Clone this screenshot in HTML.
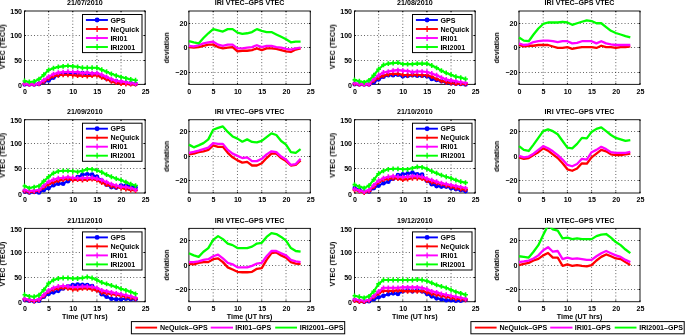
<!DOCTYPE html>
<html><head><meta charset="utf-8"><style>
html,body{margin:0;padding:0;background:#fff;width:685px;height:335px;overflow:hidden}
svg{display:block}
text{font-family:"Liberation Sans",sans-serif;font-weight:bold;font-size:7.1px;fill:#000;filter:url(#tb)}
</style></head><body>
<svg width="685" height="335" viewBox="0 0 685 335">
<defs><filter id="tb" x="-20%" y="-30%" width="140%" height="160%"><feGaussianBlur stdDeviation="0.28"/></filter></defs>
<rect width="685" height="335" fill="#fff"/>
<path d="M48.64 11V84.4 M72.78 11V84.4 M96.92 11V84.4 M121.06 11V84.4 M24.5 60.5H145.2 M24.5 35.5H145.2" stroke="#000" stroke-width="0.9" stroke-dasharray="0.9 2.3" fill="none" opacity="0.75"/>
<rect x="24.5" y="11" width="120.7" height="73.4" fill="none" stroke="#1a1a1a" stroke-width="1.0"/>
<path d="M24.5 84.4v-1.3M24.5 11v1.3M48.64 84.4v-1.3M48.64 11v1.3M72.78 84.4v-1.3M72.78 11v1.3M96.92 84.4v-1.3M96.92 11v1.3M121.06 84.4v-1.3M121.06 11v1.3M145.2 84.4v-1.3M145.2 11v1.3M24.5 84.4h1.3M145.2 84.4h-1.3M24.5 60.5h1.3M145.2 60.5h-1.3M24.5 35.5h1.3M145.2 35.5h-1.3M24.5 11h1.3M145.2 11h-1.3" stroke="#000" stroke-width="1" fill="none"/>
<clipPath id="c0"><rect x="22.5" y="10.4" width="124.7" height="76.4"/></clipPath>
<g clip-path="url(#c0)">
<polyline points="24.5,84.4 29.33,84.4 34.16,84.4 38.98,83.91 43.81,81.95 48.64,80.49 53.47,77.55 58.3,75.1 63.12,73.63 67.95,73.15 72.78,73.15 77.61,73.15 82.44,73.15 87.26,73.63 92.09,74.12 96.92,74.12 101.75,76.08 106.58,78.53 111.4,80.49 116.23,81.46 121.06,82.44 125.89,82.93 130.72,83.42 135.54,83.91" stroke="#0000ff" stroke-width="2.1" fill="none" stroke-linejoin="round"/>
<circle cx="24.5" cy="84.4" r="2.35" fill="#0000ff"/>
<circle cx="29.33" cy="84.4" r="2.35" fill="#0000ff"/>
<circle cx="34.16" cy="84.4" r="2.35" fill="#0000ff"/>
<circle cx="38.98" cy="83.91" r="2.35" fill="#0000ff"/>
<circle cx="43.81" cy="81.95" r="2.35" fill="#0000ff"/>
<circle cx="48.64" cy="80.49" r="2.35" fill="#0000ff"/>
<circle cx="53.47" cy="77.55" r="2.35" fill="#0000ff"/>
<circle cx="58.3" cy="75.1" r="2.35" fill="#0000ff"/>
<circle cx="63.12" cy="73.63" r="2.35" fill="#0000ff"/>
<circle cx="67.95" cy="73.15" r="2.35" fill="#0000ff"/>
<circle cx="72.78" cy="73.15" r="2.35" fill="#0000ff"/>
<circle cx="77.61" cy="73.15" r="2.35" fill="#0000ff"/>
<circle cx="82.44" cy="73.15" r="2.35" fill="#0000ff"/>
<circle cx="87.26" cy="73.63" r="2.35" fill="#0000ff"/>
<circle cx="92.09" cy="74.12" r="2.35" fill="#0000ff"/>
<circle cx="96.92" cy="74.12" r="2.35" fill="#0000ff"/>
<circle cx="101.75" cy="76.08" r="2.35" fill="#0000ff"/>
<circle cx="106.58" cy="78.53" r="2.35" fill="#0000ff"/>
<circle cx="111.4" cy="80.49" r="2.35" fill="#0000ff"/>
<circle cx="116.23" cy="81.46" r="2.35" fill="#0000ff"/>
<circle cx="121.06" cy="82.44" r="2.35" fill="#0000ff"/>
<circle cx="125.89" cy="82.93" r="2.35" fill="#0000ff"/>
<circle cx="130.72" cy="83.42" r="2.35" fill="#0000ff"/>
<circle cx="135.54" cy="83.91" r="2.35" fill="#0000ff"/>
<polyline points="24.5,83.91 29.33,84.4 34.16,84.4 38.98,83.91 43.81,81.46 48.64,78.38 53.47,76.18 58.3,75.25 63.12,74.81 67.95,74.81 72.78,75.25 77.61,75.64 82.44,75.64 87.26,76.18 92.09,75.64 96.92,75.25 101.75,77.45 106.58,79.16 111.4,81.37 116.23,82.69 121.06,83.62 125.89,84.01 130.72,84.4 135.54,84.4" stroke="#ff0000" stroke-width="2.1" fill="none" stroke-linejoin="round"/>
<path d="M22.1 83.91h4.8M24.5 81.51v4.8M26.93 84.4h4.8M29.33 82v4.8M31.76 84.4h4.8M34.16 82v4.8M36.58 83.91h4.8M38.98 81.51v4.8M41.41 81.46h4.8M43.81 79.06v4.8M46.24 78.38h4.8M48.64 75.98v4.8M51.07 76.18h4.8M53.47 73.78v4.8M55.9 75.25h4.8M58.3 72.85v4.8M60.72 74.81h4.8M63.12 72.41v4.8M65.55 74.81h4.8M67.95 72.41v4.8M70.38 75.25h4.8M72.78 72.85v4.8M75.21 75.64h4.8M77.61 73.24v4.8M80.04 75.64h4.8M82.44 73.24v4.8M84.86 76.18h4.8M87.26 73.78v4.8M89.69 75.64h4.8M92.09 73.24v4.8M94.52 75.25h4.8M96.92 72.85v4.8M99.35 77.45h4.8M101.75 75.05v4.8M104.18 79.16h4.8M106.58 76.76v4.8M109 81.37h4.8M111.4 78.97v4.8M113.83 82.69h4.8M116.23 80.29v4.8M118.66 83.62h4.8M121.06 81.22v4.8M123.49 84.01h4.8M125.89 81.61v4.8M128.32 84.4h4.8M130.72 82v4.8M133.14 84.4h4.8M135.54 82v4.8" stroke="#ff0000" stroke-width="1.6" fill="none"/>
<polyline points="24.5,83.91 29.33,84.4 34.16,84.4 38.98,83.42 43.81,80.09 48.64,76.57 53.47,74.12 58.3,72.66 63.12,72.17 67.95,71.68 72.78,72.17 77.61,72.17 82.44,73.15 87.26,72.66 92.09,73.44 96.92,73.15 101.75,74.76 106.58,76.96 111.4,79.16 116.23,80.97 121.06,81.37 125.89,82.3 130.72,83.18 135.54,83.62" stroke="#ff00ff" stroke-width="2.1" fill="none" stroke-linejoin="round"/>
<path d="M22.1 83.91h4.8M24.5 81.51v4.8M26.93 84.4h4.8M29.33 82v4.8M31.76 84.4h4.8M34.16 82v4.8M36.58 83.42h4.8M38.98 81.02v4.8M41.41 80.09h4.8M43.81 77.69v4.8M46.24 76.57h4.8M48.64 74.17v4.8M51.07 74.12h4.8M53.47 71.72v4.8M55.9 72.66h4.8M58.3 70.26v4.8M60.72 72.17h4.8M63.12 69.77v4.8M65.55 71.68h4.8M67.95 69.28v4.8M70.38 72.17h4.8M72.78 69.77v4.8M75.21 72.17h4.8M77.61 69.77v4.8M80.04 73.15h4.8M82.44 70.75v4.8M84.86 72.66h4.8M87.26 70.26v4.8M89.69 73.44h4.8M92.09 71.04v4.8M94.52 73.15h4.8M96.92 70.75v4.8M99.35 74.76h4.8M101.75 72.36v4.8M104.18 76.96h4.8M106.58 74.56v4.8M109 79.16h4.8M111.4 76.76v4.8M113.83 80.97h4.8M116.23 78.57v4.8M118.66 81.37h4.8M121.06 78.97v4.8M123.49 82.3h4.8M125.89 79.9v4.8M128.32 83.18h4.8M130.72 80.78v4.8M133.14 83.62h4.8M135.54 81.22v4.8" stroke="#ff00ff" stroke-width="1.6" fill="none"/>
<polyline points="24.5,80.97 29.33,81.95 34.16,81.46 38.98,79.16 43.81,74.76 48.64,69.92 53.47,68.25 58.3,66.88 63.12,66.39 67.95,65.81 72.78,66.39 77.61,66.78 82.44,67.76 87.26,67.76 92.09,67.76 96.92,67.76 101.75,69.72 106.58,71.68 111.4,73.88 116.23,75.59 121.06,77.06 125.89,78.28 130.72,79.41 135.54,80.24" stroke="#00ff00" stroke-width="2.1" fill="none" stroke-linejoin="round"/>
<path d="M22.1 80.97h4.8M24.5 78.57v4.8M26.93 81.95h4.8M29.33 79.55v4.8M31.76 81.46h4.8M34.16 79.06v4.8M36.58 79.16h4.8M38.98 76.76v4.8M41.41 74.76h4.8M43.81 72.36v4.8M46.24 69.92h4.8M48.64 67.52v4.8M51.07 68.25h4.8M53.47 65.85v4.8M55.9 66.88h4.8M58.3 64.48v4.8M60.72 66.39h4.8M63.12 63.99v4.8M65.55 65.81h4.8M67.95 63.41v4.8M70.38 66.39h4.8M72.78 63.99v4.8M75.21 66.78h4.8M77.61 64.38v4.8M80.04 67.76h4.8M82.44 65.36v4.8M84.86 67.76h4.8M87.26 65.36v4.8M89.69 67.76h4.8M92.09 65.36v4.8M94.52 67.76h4.8M96.92 65.36v4.8M99.35 69.72h4.8M101.75 67.32v4.8M104.18 71.68h4.8M106.58 69.28v4.8M109 73.88h4.8M111.4 71.48v4.8M113.83 75.59h4.8M116.23 73.19v4.8M118.66 77.06h4.8M121.06 74.66v4.8M123.49 78.28h4.8M125.89 75.88v4.8M128.32 79.41h4.8M130.72 77.01v4.8M133.14 80.24h4.8M135.54 77.84v4.8" stroke="#00ff00" stroke-width="1.6" fill="none"/>
</g>
<text x="24.9" y="93.8" text-anchor="middle" font-size="6.6">0</text>
<text x="49.04" y="93.8" text-anchor="middle" font-size="6.6">5</text>
<text x="73.18" y="93.8" text-anchor="middle" font-size="6.6">10</text>
<text x="97.32" y="93.8" text-anchor="middle" font-size="6.6">15</text>
<text x="121.46" y="93.8" text-anchor="middle" font-size="6.6">20</text>
<text x="145.6" y="93.8" text-anchor="middle" font-size="6.6">25</text>
<text x="22.05" y="87.95" text-anchor="end" font-size="6.6">0</text>
<text x="22.05" y="63.25" text-anchor="end" font-size="6.6">50</text>
<text x="22.05" y="38.25" text-anchor="end" font-size="6.6">100</text>
<text x="22.05" y="14.15" text-anchor="end" font-size="6.6">150</text>
<text x="84.85" y="5.2" text-anchor="middle">21/07/2010</text>
<text transform="translate(4.9,46.7) rotate(-90)" text-anchor="middle">VTEC (TECU)</text>
<rect x="82.5" y="14.5" width="59.5" height="38.1" fill="#fff" stroke="#000" stroke-width="1"/>
<path d="M85.9 20H107.9" stroke="#0000ff" stroke-width="1.9"/>
<circle cx="97.1" cy="20" r="2.45" fill="#0000ff"/>
<text x="110.4" y="22.6" text-anchor="start">GPS</text>
<path d="M85.9 29H107.9" stroke="#ff0000" stroke-width="1.9"/>
<path d="M94.5 29h5.2M97.1 26.1v5.8" stroke="#ff0000" stroke-width="1.3"/>
<text x="110.4" y="31.6" text-anchor="start">NeQuick</text>
<path d="M85.9 38H107.9" stroke="#ff00ff" stroke-width="1.9"/>
<path d="M94.5 38h5.2M97.1 35.1v5.8" stroke="#ff00ff" stroke-width="1.3"/>
<text x="110.4" y="40.6" text-anchor="start">IRI01</text>
<path d="M85.9 47H107.9" stroke="#00ff00" stroke-width="1.9"/>
<path d="M94.5 47h5.2M97.1 44.1v5.8" stroke="#00ff00" stroke-width="1.3"/>
<text x="110.4" y="49.6" text-anchor="start">IRI2001</text>
<path d="M213.18 11V84.4 M237.46 11V84.4 M261.74 11V84.4 M286.02 11V84.4 M188.9 72.5H310.3 M188.9 47.5H310.3 M188.9 23.5H310.3" stroke="#000" stroke-width="0.9" stroke-dasharray="0.9 2.3" fill="none" opacity="0.75"/>
<rect x="188.9" y="11" width="121.4" height="73.4" fill="none" stroke="#1a1a1a" stroke-width="1.0"/>
<path d="M188.9 84.4v-1.3M188.9 11v1.3M213.18 84.4v-1.3M213.18 11v1.3M237.46 84.4v-1.3M237.46 11v1.3M261.74 84.4v-1.3M261.74 11v1.3M286.02 84.4v-1.3M286.02 11v1.3M310.3 84.4v-1.3M310.3 11v1.3M188.9 72.5h1.3M310.3 72.5h-1.3M188.9 47.5h1.3M310.3 47.5h-1.3M188.9 23.5h1.3M310.3 23.5h-1.3" stroke="#000" stroke-width="1" fill="none"/>
<clipPath id="c1"><rect x="186.9" y="10.4" width="125.4" height="76.4"/></clipPath>
<g clip-path="url(#c1)">
<polyline points="188.9,47.09 193.76,47.7 198.61,47.09 203.47,45.87 208.32,44.64 213.18,44.64 218.04,47.09 222.89,48.31 227.75,47.7 232.6,47.09 237.46,51.37 242.32,50.76 247.17,50.76 252.03,50.15 256.88,48.31 261.74,50.15 266.6,48.31 271.45,48.31 276.31,48.92 281.16,50.15 286.02,51.37 290.88,51.98 295.73,49.54 300.59,48.31" stroke="#ff0000" stroke-width="2.3" fill="none" stroke-linejoin="round"/>
<polyline points="188.9,45.87 193.76,46.48 198.61,45.25 203.47,43.42 208.32,42.32 213.18,41.71 218.04,44.64 222.89,45.87 227.75,44.64 232.6,44.64 237.46,48.31 242.32,48.31 247.17,47.7 252.03,47.09 256.88,45.25 261.74,47.09 266.6,45.87 271.45,45.87 276.31,47.09 281.16,47.7 286.02,48.92 290.88,49.54 295.73,48.31 300.59,47.7" stroke="#ff00ff" stroke-width="2.3" fill="none" stroke-linejoin="round"/>
<polyline points="188.9,41.09 193.76,42.32 198.61,43.42 203.47,38.04 208.32,33.26 213.18,29.11 218.04,30.33 222.89,31.55 227.75,29.11 232.6,29.11 237.46,32.65 242.32,33.88 247.17,33.26 252.03,32.04 256.88,29.11 261.74,30.94 266.6,32.04 271.45,32.04 276.31,34.49 281.16,36.81 286.02,39.26 290.88,42.32 295.73,41.71 300.59,41.71" stroke="#00ff00" stroke-width="2.3" fill="none" stroke-linejoin="round"/>
</g>
<text x="189.3" y="93.8" text-anchor="middle" font-size="6.6">0</text>
<text x="213.58" y="93.8" text-anchor="middle" font-size="6.6">5</text>
<text x="237.86" y="93.8" text-anchor="middle" font-size="6.6">10</text>
<text x="262.14" y="93.8" text-anchor="middle" font-size="6.6">15</text>
<text x="286.42" y="93.8" text-anchor="middle" font-size="6.6">20</text>
<text x="310.7" y="93.8" text-anchor="middle" font-size="6.6">25</text>
<text x="187.35" y="75.25" text-anchor="end" font-size="6.6">&#8722;20</text>
<text x="187.35" y="50.25" text-anchor="end" font-size="6.6">0</text>
<text x="187.35" y="26.25" text-anchor="end" font-size="6.6">20</text>
<text x="249.6" y="5.2" text-anchor="middle">IRI VTEC&#8211;GPS VTEC</text>
<text transform="translate(168.9,47.8) rotate(-90)" text-anchor="middle">deviation</text>
<path d="M378.64 11V84.4 M402.78 11V84.4 M426.92 11V84.4 M451.06 11V84.4 M354.5 60.5H475.2 M354.5 35.5H475.2" stroke="#000" stroke-width="0.9" stroke-dasharray="0.9 2.3" fill="none" opacity="0.75"/>
<rect x="354.5" y="11" width="120.7" height="73.4" fill="none" stroke="#1a1a1a" stroke-width="1.0"/>
<path d="M354.5 84.4v-1.3M354.5 11v1.3M378.64 84.4v-1.3M378.64 11v1.3M402.78 84.4v-1.3M402.78 11v1.3M426.92 84.4v-1.3M426.92 11v1.3M451.06 84.4v-1.3M451.06 11v1.3M475.2 84.4v-1.3M475.2 11v1.3M354.5 84.4h1.3M475.2 84.4h-1.3M354.5 60.5h1.3M475.2 60.5h-1.3M354.5 35.5h1.3M475.2 35.5h-1.3M354.5 11h1.3M475.2 11h-1.3" stroke="#000" stroke-width="1" fill="none"/>
<clipPath id="c2"><rect x="352.5" y="10.4" width="124.7" height="76.4"/></clipPath>
<g clip-path="url(#c2)">
<polyline points="354.5,84.16 359.33,84.4 364.16,84.4 368.98,84.4 373.81,82.3 378.64,79.36 383.47,76.67 388.3,75.25 393.12,75.25 397.95,74.76 402.78,76.18 407.61,75.84 412.44,75.25 417.26,75.74 422.09,75.74 426.92,76.18 431.75,78.97 436.58,79.9 441.4,81.27 446.23,82.3 451.06,83.18 455.89,83.67 460.72,83.91 465.54,84.4" stroke="#0000ff" stroke-width="2.1" fill="none" stroke-linejoin="round"/>
<circle cx="354.5" cy="84.16" r="2.35" fill="#0000ff"/>
<circle cx="359.33" cy="84.4" r="2.35" fill="#0000ff"/>
<circle cx="364.16" cy="84.4" r="2.35" fill="#0000ff"/>
<circle cx="368.98" cy="84.4" r="2.35" fill="#0000ff"/>
<circle cx="373.81" cy="82.3" r="2.35" fill="#0000ff"/>
<circle cx="378.64" cy="79.36" r="2.35" fill="#0000ff"/>
<circle cx="383.47" cy="76.67" r="2.35" fill="#0000ff"/>
<circle cx="388.3" cy="75.25" r="2.35" fill="#0000ff"/>
<circle cx="393.12" cy="75.25" r="2.35" fill="#0000ff"/>
<circle cx="397.95" cy="74.76" r="2.35" fill="#0000ff"/>
<circle cx="402.78" cy="76.18" r="2.35" fill="#0000ff"/>
<circle cx="407.61" cy="75.84" r="2.35" fill="#0000ff"/>
<circle cx="412.44" cy="75.25" r="2.35" fill="#0000ff"/>
<circle cx="417.26" cy="75.74" r="2.35" fill="#0000ff"/>
<circle cx="422.09" cy="75.74" r="2.35" fill="#0000ff"/>
<circle cx="426.92" cy="76.18" r="2.35" fill="#0000ff"/>
<circle cx="431.75" cy="78.97" r="2.35" fill="#0000ff"/>
<circle cx="436.58" cy="79.9" r="2.35" fill="#0000ff"/>
<circle cx="441.4" cy="81.27" r="2.35" fill="#0000ff"/>
<circle cx="446.23" cy="82.3" r="2.35" fill="#0000ff"/>
<circle cx="451.06" cy="83.18" r="2.35" fill="#0000ff"/>
<circle cx="455.89" cy="83.67" r="2.35" fill="#0000ff"/>
<circle cx="460.72" cy="83.91" r="2.35" fill="#0000ff"/>
<circle cx="465.54" cy="84.4" r="2.35" fill="#0000ff"/>
<polyline points="354.5,83.91 359.33,84.4 364.16,84.4 368.98,84.4 373.81,80.39 378.64,77.55 383.47,75.74 388.3,74.37 393.12,73.83 397.95,73.83 402.78,74.76 407.61,75.25 412.44,74.76 417.26,74.76 422.09,75.25 426.92,75.25 431.75,76.67 436.58,78.97 441.4,80.88 446.23,82.3 451.06,83.18 455.89,83.67 460.72,83.67 465.54,84.11" stroke="#ff0000" stroke-width="2.1" fill="none" stroke-linejoin="round"/>
<path d="M352.1 83.91h4.8M354.5 81.51v4.8M356.93 84.4h4.8M359.33 82v4.8M361.76 84.4h4.8M364.16 82v4.8M366.58 84.4h4.8M368.98 82v4.8M371.41 80.39h4.8M373.81 77.99v4.8M376.24 77.55h4.8M378.64 75.15v4.8M381.07 75.74h4.8M383.47 73.34v4.8M385.9 74.37h4.8M388.3 71.97v4.8M390.72 73.83h4.8M393.12 71.43v4.8M395.55 73.83h4.8M397.95 71.43v4.8M400.38 74.76h4.8M402.78 72.36v4.8M405.21 75.25h4.8M407.61 72.85v4.8M410.04 74.76h4.8M412.44 72.36v4.8M414.86 74.76h4.8M417.26 72.36v4.8M419.69 75.25h4.8M422.09 72.85v4.8M424.52 75.25h4.8M426.92 72.85v4.8M429.35 76.67h4.8M431.75 74.27v4.8M434.18 78.97h4.8M436.58 76.57v4.8M439 80.88h4.8M441.4 78.48v4.8M443.83 82.3h4.8M446.23 79.9v4.8M448.66 83.18h4.8M451.06 80.78v4.8M453.49 83.67h4.8M455.89 81.27v4.8M458.32 83.67h4.8M460.72 81.27v4.8M463.14 84.11h4.8M465.54 81.71v4.8" stroke="#ff0000" stroke-width="1.6" fill="none"/>
<polyline points="354.5,83.18 359.33,84.11 364.16,84.4 368.98,84.11 373.81,79.02 378.64,75.25 383.47,72.46 388.3,71.53 393.12,70.6 397.95,70.11 402.78,70.6 407.61,71.04 412.44,72.02 417.26,71.53 422.09,71.53 426.92,72.02 431.75,73.44 436.58,75.25 441.4,77.55 446.23,79.46 451.06,80.39 455.89,81.27 460.72,82.3 465.54,82.69" stroke="#ff00ff" stroke-width="2.1" fill="none" stroke-linejoin="round"/>
<path d="M352.1 83.18h4.8M354.5 80.78v4.8M356.93 84.11h4.8M359.33 81.71v4.8M361.76 84.4h4.8M364.16 82v4.8M366.58 84.11h4.8M368.98 81.71v4.8M371.41 79.02h4.8M373.81 76.62v4.8M376.24 75.25h4.8M378.64 72.85v4.8M381.07 72.46h4.8M383.47 70.06v4.8M385.9 71.53h4.8M388.3 69.13v4.8M390.72 70.6h4.8M393.12 68.2v4.8M395.55 70.11h4.8M397.95 67.71v4.8M400.38 70.6h4.8M402.78 68.2v4.8M405.21 71.04h4.8M407.61 68.64v4.8M410.04 72.02h4.8M412.44 69.62v4.8M414.86 71.53h4.8M417.26 69.13v4.8M419.69 71.53h4.8M422.09 69.13v4.8M424.52 72.02h4.8M426.92 69.62v4.8M429.35 73.44h4.8M431.75 71.04v4.8M434.18 75.25h4.8M436.58 72.85v4.8M439 77.55h4.8M441.4 75.15v4.8M443.83 79.46h4.8M446.23 77.06v4.8M448.66 80.39h4.8M451.06 77.99v4.8M453.49 81.27h4.8M455.89 78.87v4.8M458.32 82.3h4.8M460.72 79.9v4.8M463.14 82.69h4.8M465.54 80.29v4.8" stroke="#ff00ff" stroke-width="1.6" fill="none"/>
<polyline points="354.5,79.9 359.33,81.27 364.16,82.3 368.98,80.39 373.81,75.25 378.64,69.23 383.47,64.97 388.3,63.6 393.12,63.16 397.95,62.67 402.78,64.09 407.61,64.09 412.44,64.09 417.26,63.6 422.09,63.6 426.92,63.6 431.75,65.51 436.58,67.81 441.4,70.6 446.23,72.95 451.06,74.76 455.89,76.67 460.72,77.55 465.54,78.97" stroke="#00ff00" stroke-width="2.1" fill="none" stroke-linejoin="round"/>
<path d="M352.1 79.9h4.8M354.5 77.5v4.8M356.93 81.27h4.8M359.33 78.87v4.8M361.76 82.3h4.8M364.16 79.9v4.8M366.58 80.39h4.8M368.98 77.99v4.8M371.41 75.25h4.8M373.81 72.85v4.8M376.24 69.23h4.8M378.64 66.83v4.8M381.07 64.97h4.8M383.47 62.57v4.8M385.9 63.6h4.8M388.3 61.2v4.8M390.72 63.16h4.8M393.12 60.76v4.8M395.55 62.67h4.8M397.95 60.27v4.8M400.38 64.09h4.8M402.78 61.69v4.8M405.21 64.09h4.8M407.61 61.69v4.8M410.04 64.09h4.8M412.44 61.69v4.8M414.86 63.6h4.8M417.26 61.2v4.8M419.69 63.6h4.8M422.09 61.2v4.8M424.52 63.6h4.8M426.92 61.2v4.8M429.35 65.51h4.8M431.75 63.11v4.8M434.18 67.81h4.8M436.58 65.41v4.8M439 70.6h4.8M441.4 68.2v4.8M443.83 72.95h4.8M446.23 70.55v4.8M448.66 74.76h4.8M451.06 72.36v4.8M453.49 76.67h4.8M455.89 74.27v4.8M458.32 77.55h4.8M460.72 75.15v4.8M463.14 78.97h4.8M465.54 76.57v4.8" stroke="#00ff00" stroke-width="1.6" fill="none"/>
</g>
<text x="354.9" y="93.8" text-anchor="middle" font-size="6.6">0</text>
<text x="379.04" y="93.8" text-anchor="middle" font-size="6.6">5</text>
<text x="403.18" y="93.8" text-anchor="middle" font-size="6.6">10</text>
<text x="427.32" y="93.8" text-anchor="middle" font-size="6.6">15</text>
<text x="451.46" y="93.8" text-anchor="middle" font-size="6.6">20</text>
<text x="475.6" y="93.8" text-anchor="middle" font-size="6.6">25</text>
<text x="352.05" y="87.95" text-anchor="end" font-size="6.6">0</text>
<text x="352.05" y="63.25" text-anchor="end" font-size="6.6">50</text>
<text x="352.05" y="38.25" text-anchor="end" font-size="6.6">100</text>
<text x="352.05" y="14.15" text-anchor="end" font-size="6.6">150</text>
<text x="414.85" y="5.2" text-anchor="middle">21/08/2010</text>
<text transform="translate(334.9,46.7) rotate(-90)" text-anchor="middle">VTEC (TECU)</text>
<rect x="412.5" y="14.5" width="59.5" height="38.1" fill="#fff" stroke="#000" stroke-width="1"/>
<path d="M415.9 20H437.9" stroke="#0000ff" stroke-width="1.9"/>
<circle cx="427.1" cy="20" r="2.45" fill="#0000ff"/>
<text x="440.4" y="22.6" text-anchor="start">GPS</text>
<path d="M415.9 29H437.9" stroke="#ff0000" stroke-width="1.9"/>
<path d="M424.5 29h5.2M427.1 26.1v5.8" stroke="#ff0000" stroke-width="1.3"/>
<text x="440.4" y="31.6" text-anchor="start">NeQuick</text>
<path d="M415.9 38H437.9" stroke="#ff00ff" stroke-width="1.9"/>
<path d="M424.5 38h5.2M427.1 35.1v5.8" stroke="#ff00ff" stroke-width="1.3"/>
<text x="440.4" y="40.6" text-anchor="start">IRI01</text>
<path d="M415.9 47H437.9" stroke="#00ff00" stroke-width="1.9"/>
<path d="M424.5 47h5.2M427.1 44.1v5.8" stroke="#00ff00" stroke-width="1.3"/>
<text x="440.4" y="49.6" text-anchor="start">IRI2001</text>
<path d="M543.2 11V84.4 M567.4 11V84.4 M591.6 11V84.4 M615.8 11V84.4 M519 72.5H640 M519 47.5H640 M519 23.5H640" stroke="#000" stroke-width="0.9" stroke-dasharray="0.9 2.3" fill="none" opacity="0.75"/>
<rect x="519" y="11" width="121" height="73.4" fill="none" stroke="#1a1a1a" stroke-width="1.0"/>
<path d="M519 84.4v-1.3M519 11v1.3M543.2 84.4v-1.3M543.2 11v1.3M567.4 84.4v-1.3M567.4 11v1.3M591.6 84.4v-1.3M591.6 11v1.3M615.8 84.4v-1.3M615.8 11v1.3M640 84.4v-1.3M640 11v1.3M519 72.5h1.3M640 72.5h-1.3M519 47.5h1.3M640 47.5h-1.3M519 23.5h1.3M640 23.5h-1.3" stroke="#000" stroke-width="1" fill="none"/>
<clipPath id="c3"><rect x="517" y="10.4" width="125" height="76.4"/></clipPath>
<g clip-path="url(#c3)">
<polyline points="519,45.01 523.84,46.48 528.68,45.74 533.52,45.74 538.36,45.01 543.2,45.01 548.04,45.01 552.88,46.48 557.72,47.94 562.56,47.94 567.4,47.21 572.24,48.8 577.08,47.94 581.92,47.21 586.76,47.21 591.6,47.21 596.44,47.94 601.28,45.74 606.12,47.21 610.96,47.21 615.8,47.94 620.64,47.21 625.48,47.21 630.32,46.48" stroke="#ff0000" stroke-width="2.3" fill="none" stroke-linejoin="round"/>
<polyline points="519,43.42 523.84,45.01 528.68,44.27 533.52,42.07 538.36,41.22 543.2,40.6 548.04,40.6 552.88,41.22 557.72,42.07 562.56,41.22 567.4,41.22 572.24,43.42 577.08,42.81 581.92,41.22 586.76,41.22 591.6,41.22 596.44,43.42 601.28,41.22 606.12,43.42 610.96,44.27 615.8,45.01 620.64,45.01 625.48,45.01 630.32,45.01" stroke="#ff00ff" stroke-width="2.3" fill="none" stroke-linejoin="round"/>
<polyline points="519,37.55 523.84,40.6 528.68,41.22 533.52,34.49 538.36,28.49 543.2,23.97 548.04,22.5 552.88,22.5 557.72,22.5 562.56,21.77 567.4,22.5 572.24,24.82 577.08,23.23 581.92,21.77 586.76,20.3 591.6,21.03 596.44,23.23 601.28,23.23 606.12,27.03 610.96,30.82 615.8,33.02 620.64,34.49 625.48,36.08 630.32,37.3" stroke="#00ff00" stroke-width="2.3" fill="none" stroke-linejoin="round"/>
</g>
<text x="519.4" y="93.8" text-anchor="middle" font-size="6.6">0</text>
<text x="543.6" y="93.8" text-anchor="middle" font-size="6.6">5</text>
<text x="567.8" y="93.8" text-anchor="middle" font-size="6.6">10</text>
<text x="592" y="93.8" text-anchor="middle" font-size="6.6">15</text>
<text x="616.2" y="93.8" text-anchor="middle" font-size="6.6">20</text>
<text x="640.4" y="93.8" text-anchor="middle" font-size="6.6">25</text>
<text x="517.45" y="75.25" text-anchor="end" font-size="6.6">&#8722;20</text>
<text x="517.45" y="50.25" text-anchor="end" font-size="6.6">0</text>
<text x="517.45" y="26.25" text-anchor="end" font-size="6.6">20</text>
<text x="579.5" y="5.2" text-anchor="middle">IRI VTEC&#8211;GPS VTEC</text>
<text transform="translate(499,47.8) rotate(-90)" text-anchor="middle">deviation</text>
<path d="M48.64 119.7V193 M72.78 119.7V193 M96.92 119.7V193 M121.06 119.7V193 M24.5 168.5H145.2 M24.5 143.5H145.2" stroke="#000" stroke-width="0.9" stroke-dasharray="0.9 2.3" fill="none" opacity="0.75"/>
<rect x="24.5" y="119.7" width="120.7" height="73.3" fill="none" stroke="#1a1a1a" stroke-width="1.0"/>
<path d="M24.5 193v-1.3M24.5 119.7v1.3M48.64 193v-1.3M48.64 119.7v1.3M72.78 193v-1.3M72.78 119.7v1.3M96.92 193v-1.3M96.92 119.7v1.3M121.06 193v-1.3M121.06 119.7v1.3M145.2 193v-1.3M145.2 119.7v1.3M24.5 193h1.3M145.2 193h-1.3M24.5 168.5h1.3M145.2 168.5h-1.3M24.5 143.5h1.3M145.2 143.5h-1.3M24.5 119.7h1.3M145.2 119.7h-1.3" stroke="#000" stroke-width="1" fill="none"/>
<clipPath id="c4"><rect x="22.5" y="119.1" width="124.7" height="76.3"/></clipPath>
<g clip-path="url(#c4)">
<polyline points="24.5,191.53 29.33,192.51 34.16,192.02 38.98,192.51 43.81,190.07 48.64,188.06 53.47,185.13 58.3,183.67 63.12,183.67 67.95,181.17 72.78,179.12 77.61,177.22 82.44,174.72 87.26,174.24 92.09,174.72 96.92,176.73 101.75,180.64 106.58,184.64 111.4,187.09 116.23,187.58 121.06,185.57 125.89,185.57 130.72,186.6 135.54,187.58" stroke="#0000ff" stroke-width="2.1" fill="none" stroke-linejoin="round"/>
<circle cx="24.5" cy="191.53" r="2.35" fill="#0000ff"/>
<circle cx="29.33" cy="192.51" r="2.35" fill="#0000ff"/>
<circle cx="34.16" cy="192.02" r="2.35" fill="#0000ff"/>
<circle cx="38.98" cy="192.51" r="2.35" fill="#0000ff"/>
<circle cx="43.81" cy="190.07" r="2.35" fill="#0000ff"/>
<circle cx="48.64" cy="188.06" r="2.35" fill="#0000ff"/>
<circle cx="53.47" cy="185.13" r="2.35" fill="#0000ff"/>
<circle cx="58.3" cy="183.67" r="2.35" fill="#0000ff"/>
<circle cx="63.12" cy="183.67" r="2.35" fill="#0000ff"/>
<circle cx="67.95" cy="181.17" r="2.35" fill="#0000ff"/>
<circle cx="72.78" cy="179.12" r="2.35" fill="#0000ff"/>
<circle cx="77.61" cy="177.22" r="2.35" fill="#0000ff"/>
<circle cx="82.44" cy="174.72" r="2.35" fill="#0000ff"/>
<circle cx="87.26" cy="174.24" r="2.35" fill="#0000ff"/>
<circle cx="92.09" cy="174.72" r="2.35" fill="#0000ff"/>
<circle cx="96.92" cy="176.73" r="2.35" fill="#0000ff"/>
<circle cx="101.75" cy="180.64" r="2.35" fill="#0000ff"/>
<circle cx="106.58" cy="184.64" r="2.35" fill="#0000ff"/>
<circle cx="111.4" cy="187.09" r="2.35" fill="#0000ff"/>
<circle cx="116.23" cy="187.58" r="2.35" fill="#0000ff"/>
<circle cx="121.06" cy="185.57" r="2.35" fill="#0000ff"/>
<circle cx="125.89" cy="185.57" r="2.35" fill="#0000ff"/>
<circle cx="130.72" cy="186.6" r="2.35" fill="#0000ff"/>
<circle cx="135.54" cy="187.58" r="2.35" fill="#0000ff"/>
<polyline points="24.5,191.09 29.33,192.02 34.16,191.53 38.98,190.56 43.81,187.09 48.64,184.16 53.47,182.15 58.3,180.64 63.12,179.66 67.95,178.63 72.78,180.15 77.61,179.66 82.44,180.15 87.26,179.66 92.09,179.12 96.92,180.15 101.75,182.64 106.58,184.64 111.4,186.06 116.23,187.09 121.06,188.06 125.89,189.09 130.72,190.07 135.54,190.56" stroke="#ff0000" stroke-width="2.1" fill="none" stroke-linejoin="round"/>
<path d="M22.1 191.09h4.8M24.5 188.69v4.8M26.93 192.02h4.8M29.33 189.62v4.8M31.76 191.53h4.8M34.16 189.13v4.8M36.58 190.56h4.8M38.98 188.16v4.8M41.41 187.09h4.8M43.81 184.69v4.8M46.24 184.16h4.8M48.64 181.76v4.8M51.07 182.15h4.8M53.47 179.75v4.8M55.9 180.64h4.8M58.3 178.24v4.8M60.72 179.66h4.8M63.12 177.26v4.8M65.55 178.63h4.8M67.95 176.23v4.8M70.38 180.15h4.8M72.78 177.75v4.8M75.21 179.66h4.8M77.61 177.26v4.8M80.04 180.15h4.8M82.44 177.75v4.8M84.86 179.66h4.8M87.26 177.26v4.8M89.69 179.12h4.8M92.09 176.72v4.8M94.52 180.15h4.8M96.92 177.75v4.8M99.35 182.64h4.8M101.75 180.24v4.8M104.18 184.64h4.8M106.58 182.24v4.8M109 186.06h4.8M111.4 183.66v4.8M113.83 187.09h4.8M116.23 184.69v4.8M118.66 188.06h4.8M121.06 185.66v4.8M123.49 189.09h4.8M125.89 186.69v4.8M128.32 190.07h4.8M130.72 187.67v4.8M133.14 190.56h4.8M135.54 188.16v4.8" stroke="#ff0000" stroke-width="1.6" fill="none"/>
<polyline points="24.5,190.07 29.33,191.09 34.16,190.56 38.98,190.07 43.81,185.57 48.64,181.66 53.47,179.66 58.3,178.24 63.12,177.75 67.95,177.22 72.78,177.75 77.61,178.24 82.44,178.24 87.26,177.75 92.09,177.75 96.92,178.63 101.75,180.15 106.58,182.15 111.4,184.16 116.23,185.57 121.06,186.6 125.89,187.09 130.72,188.06 135.54,189.58" stroke="#ff00ff" stroke-width="2.1" fill="none" stroke-linejoin="round"/>
<path d="M22.1 190.07h4.8M24.5 187.67v4.8M26.93 191.09h4.8M29.33 188.69v4.8M31.76 190.56h4.8M34.16 188.16v4.8M36.58 190.07h4.8M38.98 187.67v4.8M41.41 185.57h4.8M43.81 183.17v4.8M46.24 181.66h4.8M48.64 179.26v4.8M51.07 179.66h4.8M53.47 177.26v4.8M55.9 178.24h4.8M58.3 175.84v4.8M60.72 177.75h4.8M63.12 175.35v4.8M65.55 177.22h4.8M67.95 174.82v4.8M70.38 177.75h4.8M72.78 175.35v4.8M75.21 178.24h4.8M77.61 175.84v4.8M80.04 178.24h4.8M82.44 175.84v4.8M84.86 177.75h4.8M87.26 175.35v4.8M89.69 177.75h4.8M92.09 175.35v4.8M94.52 178.63h4.8M96.92 176.23v4.8M99.35 180.15h4.8M101.75 177.75v4.8M104.18 182.15h4.8M106.58 179.75v4.8M109 184.16h4.8M111.4 181.76v4.8M113.83 185.57h4.8M116.23 183.17v4.8M118.66 186.6h4.8M121.06 184.2v4.8M123.49 187.09h4.8M125.89 184.69v4.8M128.32 188.06h4.8M130.72 185.66v4.8M133.14 189.58h4.8M135.54 187.18v4.8" stroke="#ff00ff" stroke-width="1.6" fill="none"/>
<polyline points="24.5,186.06 29.33,188.06 34.16,187.09 38.98,186.06 43.81,181.17 48.64,176.73 53.47,173.21 58.3,171.3 63.12,170.81 67.95,170.81 72.78,171.3 77.61,171.79 82.44,170.81 87.26,169.3 92.09,169.3 96.92,170.33 101.75,172.23 106.58,174.72 111.4,176.73 116.23,178.63 121.06,180.15 125.89,182.15 130.72,184.16 135.54,185.57" stroke="#00ff00" stroke-width="2.1" fill="none" stroke-linejoin="round"/>
<path d="M22.1 186.06h4.8M24.5 183.66v4.8M26.93 188.06h4.8M29.33 185.66v4.8M31.76 187.09h4.8M34.16 184.69v4.8M36.58 186.06h4.8M38.98 183.66v4.8M41.41 181.17h4.8M43.81 178.77v4.8M46.24 176.73h4.8M48.64 174.33v4.8M51.07 173.21h4.8M53.47 170.81v4.8M55.9 171.3h4.8M58.3 168.9v4.8M60.72 170.81h4.8M63.12 168.41v4.8M65.55 170.81h4.8M67.95 168.41v4.8M70.38 171.3h4.8M72.78 168.9v4.8M75.21 171.79h4.8M77.61 169.39v4.8M80.04 170.81h4.8M82.44 168.41v4.8M84.86 169.3h4.8M87.26 166.9v4.8M89.69 169.3h4.8M92.09 166.9v4.8M94.52 170.33h4.8M96.92 167.93v4.8M99.35 172.23h4.8M101.75 169.83v4.8M104.18 174.72h4.8M106.58 172.32v4.8M109 176.73h4.8M111.4 174.33v4.8M113.83 178.63h4.8M116.23 176.23v4.8M118.66 180.15h4.8M121.06 177.75v4.8M123.49 182.15h4.8M125.89 179.75v4.8M128.32 184.16h4.8M130.72 181.76v4.8M133.14 185.57h4.8M135.54 183.17v4.8" stroke="#00ff00" stroke-width="1.6" fill="none"/>
</g>
<text x="24.9" y="202.4" text-anchor="middle" font-size="6.6">0</text>
<text x="49.04" y="202.4" text-anchor="middle" font-size="6.6">5</text>
<text x="73.18" y="202.4" text-anchor="middle" font-size="6.6">10</text>
<text x="97.32" y="202.4" text-anchor="middle" font-size="6.6">15</text>
<text x="121.46" y="202.4" text-anchor="middle" font-size="6.6">20</text>
<text x="145.6" y="202.4" text-anchor="middle" font-size="6.6">25</text>
<text x="22.05" y="196.55" text-anchor="end" font-size="6.6">0</text>
<text x="22.05" y="171.25" text-anchor="end" font-size="6.6">50</text>
<text x="22.05" y="146.25" text-anchor="end" font-size="6.6">100</text>
<text x="22.05" y="122.85" text-anchor="end" font-size="6.6">150</text>
<text x="84.85" y="113.9" text-anchor="middle">21/09/2010</text>
<text transform="translate(4.9,155.35) rotate(-90)" text-anchor="middle">VTEC (TECU)</text>
<rect x="82.5" y="123.2" width="59.5" height="38.1" fill="#fff" stroke="#000" stroke-width="1"/>
<path d="M85.9 128.7H107.9" stroke="#0000ff" stroke-width="1.9"/>
<circle cx="97.1" cy="128.7" r="2.45" fill="#0000ff"/>
<text x="110.4" y="131.3" text-anchor="start">GPS</text>
<path d="M85.9 137.7H107.9" stroke="#ff0000" stroke-width="1.9"/>
<path d="M94.5 137.7h5.2M97.1 134.8v5.8" stroke="#ff0000" stroke-width="1.3"/>
<text x="110.4" y="140.3" text-anchor="start">NeQuick</text>
<path d="M85.9 146.7H107.9" stroke="#ff00ff" stroke-width="1.9"/>
<path d="M94.5 146.7h5.2M97.1 143.8v5.8" stroke="#ff00ff" stroke-width="1.3"/>
<text x="110.4" y="149.3" text-anchor="start">IRI01</text>
<path d="M85.9 155.7H107.9" stroke="#00ff00" stroke-width="1.9"/>
<path d="M94.5 155.7h5.2M97.1 152.8v5.8" stroke="#00ff00" stroke-width="1.3"/>
<text x="110.4" y="158.3" text-anchor="start">IRI2001</text>
<path d="M213.18 119.7V193 M237.46 119.7V193 M261.74 119.7V193 M286.02 119.7V193 M188.9 180.5H310.3 M188.9 156.5H310.3 M188.9 131.5H310.3" stroke="#000" stroke-width="0.9" stroke-dasharray="0.9 2.3" fill="none" opacity="0.75"/>
<rect x="188.9" y="119.7" width="121.4" height="73.3" fill="none" stroke="#1a1a1a" stroke-width="1.0"/>
<path d="M188.9 193v-1.3M188.9 119.7v1.3M213.18 193v-1.3M213.18 119.7v1.3M237.46 193v-1.3M237.46 119.7v1.3M261.74 193v-1.3M261.74 119.7v1.3M286.02 193v-1.3M286.02 119.7v1.3M310.3 193v-1.3M310.3 119.7v1.3M188.9 180.5h1.3M310.3 180.5h-1.3M188.9 156.5h1.3M310.3 156.5h-1.3M188.9 131.5h1.3M310.3 131.5h-1.3" stroke="#000" stroke-width="1" fill="none"/>
<clipPath id="c5"><rect x="186.9" y="119.1" width="125.4" height="76.3"/></clipPath>
<g clip-path="url(#c5)">
<polyline points="188.9,154.4 193.76,153.66 198.61,152.2 203.47,151.34 208.32,149.88 213.18,145.35 218.04,146.82 222.89,146.82 227.75,152.81 232.6,157.33 237.46,160.38 242.32,162.58 247.17,161.85 252.03,165.51 256.88,165.51 261.74,163.31 266.6,158.06 271.45,153.66 276.31,153.66 281.16,158.06 286.02,161.11 290.88,165.51 295.73,164.9 300.59,160.38" stroke="#ff0000" stroke-width="2.3" fill="none" stroke-linejoin="round"/>
<polyline points="188.9,152.81 193.76,151.83 198.61,150.61 203.47,149.14 208.32,147.68 213.18,143.16 218.04,143.89 222.89,143.89 227.75,149.88 232.6,153.66 237.46,155.86 242.32,158.06 247.17,157.33 252.03,161.11 256.88,161.11 261.74,158.79 266.6,154.4 271.45,151.34 276.31,152.2 281.16,156.59 286.02,159.53 290.88,164.9 295.73,164.05 300.59,158.79" stroke="#ff00ff" stroke-width="2.3" fill="none" stroke-linejoin="round"/>
<polyline points="188.9,144.62 193.76,147.31 198.61,145.35 203.47,143.16 208.32,139.37 213.18,129.72 218.04,127.89 222.89,126.42 227.75,131.92 232.6,136.44 237.46,138.64 242.32,141.69 247.17,139.37 252.03,141.93 256.88,142.42 261.74,140.96 266.6,137.17 271.45,133.38 276.31,134.97 281.16,140.96 286.02,144.62 290.88,152.2 295.73,152.81 300.59,149.14" stroke="#00ff00" stroke-width="2.3" fill="none" stroke-linejoin="round"/>
</g>
<text x="189.3" y="202.4" text-anchor="middle" font-size="6.6">0</text>
<text x="213.58" y="202.4" text-anchor="middle" font-size="6.6">5</text>
<text x="237.86" y="202.4" text-anchor="middle" font-size="6.6">10</text>
<text x="262.14" y="202.4" text-anchor="middle" font-size="6.6">15</text>
<text x="286.42" y="202.4" text-anchor="middle" font-size="6.6">20</text>
<text x="310.7" y="202.4" text-anchor="middle" font-size="6.6">25</text>
<text x="187.35" y="183.25" text-anchor="end" font-size="6.6">&#8722;20</text>
<text x="187.35" y="159.25" text-anchor="end" font-size="6.6">0</text>
<text x="187.35" y="134.25" text-anchor="end" font-size="6.6">20</text>
<text x="249.6" y="113.9" text-anchor="middle">IRI VTEC&#8211;GPS VTEC</text>
<text transform="translate(168.9,156.45) rotate(-90)" text-anchor="middle">deviation</text>
<path d="M378.64 119.7V193 M402.78 119.7V193 M426.92 119.7V193 M451.06 119.7V193 M354.5 168.5H475.2 M354.5 143.5H475.2" stroke="#000" stroke-width="0.9" stroke-dasharray="0.9 2.3" fill="none" opacity="0.75"/>
<rect x="354.5" y="119.7" width="120.7" height="73.3" fill="none" stroke="#1a1a1a" stroke-width="1.0"/>
<path d="M354.5 193v-1.3M354.5 119.7v1.3M378.64 193v-1.3M378.64 119.7v1.3M402.78 193v-1.3M402.78 119.7v1.3M426.92 193v-1.3M426.92 119.7v1.3M451.06 193v-1.3M451.06 119.7v1.3M475.2 193v-1.3M475.2 119.7v1.3M354.5 193h1.3M475.2 193h-1.3M354.5 168.5h1.3M475.2 168.5h-1.3M354.5 143.5h1.3M475.2 143.5h-1.3M354.5 119.7h1.3M475.2 119.7h-1.3" stroke="#000" stroke-width="1" fill="none"/>
<clipPath id="c6"><rect x="352.5" y="119.1" width="124.7" height="76.3"/></clipPath>
<g clip-path="url(#c6)">
<polyline points="354.5,188.06 359.33,190.07 364.16,191.53 368.98,191.53 373.81,188.06 378.64,185.57 383.47,183.13 388.3,181.66 393.12,178.63 397.95,175.21 402.78,174.24 407.61,173.7 412.44,172.72 417.26,174.24 422.09,174.72 426.92,180.64 431.75,184.16 436.58,186.06 441.4,186.6 446.23,186.6 451.06,188.06 455.89,189.09 460.72,190.07 465.54,191.09" stroke="#0000ff" stroke-width="2.1" fill="none" stroke-linejoin="round"/>
<circle cx="354.5" cy="188.06" r="2.35" fill="#0000ff"/>
<circle cx="359.33" cy="190.07" r="2.35" fill="#0000ff"/>
<circle cx="364.16" cy="191.53" r="2.35" fill="#0000ff"/>
<circle cx="368.98" cy="191.53" r="2.35" fill="#0000ff"/>
<circle cx="373.81" cy="188.06" r="2.35" fill="#0000ff"/>
<circle cx="378.64" cy="185.57" r="2.35" fill="#0000ff"/>
<circle cx="383.47" cy="183.13" r="2.35" fill="#0000ff"/>
<circle cx="388.3" cy="181.66" r="2.35" fill="#0000ff"/>
<circle cx="393.12" cy="178.63" r="2.35" fill="#0000ff"/>
<circle cx="397.95" cy="175.21" r="2.35" fill="#0000ff"/>
<circle cx="402.78" cy="174.24" r="2.35" fill="#0000ff"/>
<circle cx="407.61" cy="173.7" r="2.35" fill="#0000ff"/>
<circle cx="412.44" cy="172.72" r="2.35" fill="#0000ff"/>
<circle cx="417.26" cy="174.24" r="2.35" fill="#0000ff"/>
<circle cx="422.09" cy="174.72" r="2.35" fill="#0000ff"/>
<circle cx="426.92" cy="180.64" r="2.35" fill="#0000ff"/>
<circle cx="431.75" cy="184.16" r="2.35" fill="#0000ff"/>
<circle cx="436.58" cy="186.06" r="2.35" fill="#0000ff"/>
<circle cx="441.4" cy="186.6" r="2.35" fill="#0000ff"/>
<circle cx="446.23" cy="186.6" r="2.35" fill="#0000ff"/>
<circle cx="451.06" cy="188.06" r="2.35" fill="#0000ff"/>
<circle cx="455.89" cy="189.09" r="2.35" fill="#0000ff"/>
<circle cx="460.72" cy="190.07" r="2.35" fill="#0000ff"/>
<circle cx="465.54" cy="191.09" r="2.35" fill="#0000ff"/>
<polyline points="354.5,190.07 359.33,191.09 364.16,192.51 368.98,191.09 373.81,186.6 378.64,182.15 383.47,179.66 388.3,178.63 393.12,178.24 397.95,178.63 402.78,179.66 407.61,179.12 412.44,178.24 417.26,178.24 422.09,178.63 426.92,180.64 431.75,182.15 436.58,183.13 441.4,184.16 446.23,185.57 451.06,186.6 455.89,188.06 460.72,189.09 465.54,189.58" stroke="#ff0000" stroke-width="2.1" fill="none" stroke-linejoin="round"/>
<path d="M352.1 190.07h4.8M354.5 187.67v4.8M356.93 191.09h4.8M359.33 188.69v4.8M361.76 192.51h4.8M364.16 190.11v4.8M366.58 191.09h4.8M368.98 188.69v4.8M371.41 186.6h4.8M373.81 184.2v4.8M376.24 182.15h4.8M378.64 179.75v4.8M381.07 179.66h4.8M383.47 177.26v4.8M385.9 178.63h4.8M388.3 176.23v4.8M390.72 178.24h4.8M393.12 175.84v4.8M395.55 178.63h4.8M397.95 176.23v4.8M400.38 179.66h4.8M402.78 177.26v4.8M405.21 179.12h4.8M407.61 176.72v4.8M410.04 178.24h4.8M412.44 175.84v4.8M414.86 178.24h4.8M417.26 175.84v4.8M419.69 178.63h4.8M422.09 176.23v4.8M424.52 180.64h4.8M426.92 178.24v4.8M429.35 182.15h4.8M431.75 179.75v4.8M434.18 183.13h4.8M436.58 180.73v4.8M439 184.16h4.8M441.4 181.76v4.8M443.83 185.57h4.8M446.23 183.17v4.8M448.66 186.6h4.8M451.06 184.2v4.8M453.49 188.06h4.8M455.89 185.66v4.8M458.32 189.09h4.8M460.72 186.69v4.8M463.14 189.58h4.8M465.54 187.18v4.8" stroke="#ff0000" stroke-width="1.6" fill="none"/>
<polyline points="354.5,189.09 359.33,190.56 364.16,191.58 368.98,190.07 373.81,185.13 378.64,180.64 383.47,178.24 388.3,176.73 393.12,176.24 397.95,176.73 402.78,177.22 407.61,176.73 412.44,176.24 417.26,176.24 422.09,176.73 426.92,178.63 431.75,180.15 436.58,181.66 441.4,183.13 446.23,184.16 451.06,185.13 455.89,186.06 460.72,187.09 465.54,188.06" stroke="#ff00ff" stroke-width="2.1" fill="none" stroke-linejoin="round"/>
<path d="M352.1 189.09h4.8M354.5 186.69v4.8M356.93 190.56h4.8M359.33 188.16v4.8M361.76 191.58h4.8M364.16 189.18v4.8M366.58 190.07h4.8M368.98 187.67v4.8M371.41 185.13h4.8M373.81 182.73v4.8M376.24 180.64h4.8M378.64 178.24v4.8M381.07 178.24h4.8M383.47 175.84v4.8M385.9 176.73h4.8M388.3 174.33v4.8M390.72 176.24h4.8M393.12 173.84v4.8M395.55 176.73h4.8M397.95 174.33v4.8M400.38 177.22h4.8M402.78 174.82v4.8M405.21 176.73h4.8M407.61 174.33v4.8M410.04 176.24h4.8M412.44 173.84v4.8M414.86 176.24h4.8M417.26 173.84v4.8M419.69 176.73h4.8M422.09 174.33v4.8M424.52 178.63h4.8M426.92 176.23v4.8M429.35 180.15h4.8M431.75 177.75v4.8M434.18 181.66h4.8M436.58 179.26v4.8M439 183.13h4.8M441.4 180.73v4.8M443.83 184.16h4.8M446.23 181.76v4.8M448.66 185.13h4.8M451.06 182.73v4.8M453.49 186.06h4.8M455.89 183.66v4.8M458.32 187.09h4.8M460.72 184.69v4.8M463.14 188.06h4.8M465.54 185.66v4.8" stroke="#ff00ff" stroke-width="1.6" fill="none"/>
<polyline points="354.5,184.64 359.33,186.6 364.16,188.06 368.98,185.57 373.81,179.66 378.64,173.7 383.47,170.81 388.3,169.3 393.12,168.81 397.95,168.81 402.78,169.3 407.61,169.3 412.44,168.32 417.26,166.81 422.09,167.3 426.92,168.81 431.75,171.3 436.58,173.21 441.4,175.21 446.23,176.73 451.06,178.24 455.89,180.15 460.72,181.66 465.54,182.64" stroke="#00ff00" stroke-width="2.1" fill="none" stroke-linejoin="round"/>
<path d="M352.1 184.64h4.8M354.5 182.24v4.8M356.93 186.6h4.8M359.33 184.2v4.8M361.76 188.06h4.8M364.16 185.66v4.8M366.58 185.57h4.8M368.98 183.17v4.8M371.41 179.66h4.8M373.81 177.26v4.8M376.24 173.7h4.8M378.64 171.3v4.8M381.07 170.81h4.8M383.47 168.41v4.8M385.9 169.3h4.8M388.3 166.9v4.8M390.72 168.81h4.8M393.12 166.41v4.8M395.55 168.81h4.8M397.95 166.41v4.8M400.38 169.3h4.8M402.78 166.9v4.8M405.21 169.3h4.8M407.61 166.9v4.8M410.04 168.32h4.8M412.44 165.92v4.8M414.86 166.81h4.8M417.26 164.41v4.8M419.69 167.3h4.8M422.09 164.9v4.8M424.52 168.81h4.8M426.92 166.41v4.8M429.35 171.3h4.8M431.75 168.9v4.8M434.18 173.21h4.8M436.58 170.81v4.8M439 175.21h4.8M441.4 172.81v4.8M443.83 176.73h4.8M446.23 174.33v4.8M448.66 178.24h4.8M451.06 175.84v4.8M453.49 180.15h4.8M455.89 177.75v4.8M458.32 181.66h4.8M460.72 179.26v4.8M463.14 182.64h4.8M465.54 180.24v4.8" stroke="#00ff00" stroke-width="1.6" fill="none"/>
</g>
<text x="354.9" y="202.4" text-anchor="middle" font-size="6.6">0</text>
<text x="379.04" y="202.4" text-anchor="middle" font-size="6.6">5</text>
<text x="403.18" y="202.4" text-anchor="middle" font-size="6.6">10</text>
<text x="427.32" y="202.4" text-anchor="middle" font-size="6.6">15</text>
<text x="451.46" y="202.4" text-anchor="middle" font-size="6.6">20</text>
<text x="475.6" y="202.4" text-anchor="middle" font-size="6.6">25</text>
<text x="352.05" y="196.55" text-anchor="end" font-size="6.6">0</text>
<text x="352.05" y="171.25" text-anchor="end" font-size="6.6">50</text>
<text x="352.05" y="146.25" text-anchor="end" font-size="6.6">100</text>
<text x="352.05" y="122.85" text-anchor="end" font-size="6.6">150</text>
<text x="414.85" y="113.9" text-anchor="middle">21/10/2010</text>
<text transform="translate(334.9,155.35) rotate(-90)" text-anchor="middle">VTEC (TECU)</text>
<rect x="412.5" y="123.2" width="59.5" height="38.1" fill="#fff" stroke="#000" stroke-width="1"/>
<path d="M415.9 128.7H437.9" stroke="#0000ff" stroke-width="1.9"/>
<circle cx="427.1" cy="128.7" r="2.45" fill="#0000ff"/>
<text x="440.4" y="131.3" text-anchor="start">GPS</text>
<path d="M415.9 137.7H437.9" stroke="#ff0000" stroke-width="1.9"/>
<path d="M424.5 137.7h5.2M427.1 134.8v5.8" stroke="#ff0000" stroke-width="1.3"/>
<text x="440.4" y="140.3" text-anchor="start">NeQuick</text>
<path d="M415.9 146.7H437.9" stroke="#ff00ff" stroke-width="1.9"/>
<path d="M424.5 146.7h5.2M427.1 143.8v5.8" stroke="#ff00ff" stroke-width="1.3"/>
<text x="440.4" y="149.3" text-anchor="start">IRI01</text>
<path d="M415.9 155.7H437.9" stroke="#00ff00" stroke-width="1.9"/>
<path d="M424.5 155.7h5.2M427.1 152.8v5.8" stroke="#00ff00" stroke-width="1.3"/>
<text x="440.4" y="158.3" text-anchor="start">IRI2001</text>
<path d="M543.2 119.7V193 M567.4 119.7V193 M591.6 119.7V193 M615.8 119.7V193 M519 180.5H640 M519 156.5H640 M519 131.5H640" stroke="#000" stroke-width="0.9" stroke-dasharray="0.9 2.3" fill="none" opacity="0.75"/>
<rect x="519" y="119.7" width="121" height="73.3" fill="none" stroke="#1a1a1a" stroke-width="1.0"/>
<path d="M519 193v-1.3M519 119.7v1.3M543.2 193v-1.3M543.2 119.7v1.3M567.4 193v-1.3M567.4 119.7v1.3M591.6 193v-1.3M591.6 119.7v1.3M615.8 193v-1.3M615.8 119.7v1.3M640 193v-1.3M640 119.7v1.3M519 180.5h1.3M640 180.5h-1.3M519 156.5h1.3M640 156.5h-1.3M519 131.5h1.3M640 131.5h-1.3" stroke="#000" stroke-width="1" fill="none"/>
<clipPath id="c7"><rect x="517" y="119.1" width="125" height="76.3"/></clipPath>
<g clip-path="url(#c7)">
<polyline points="519,157.33 523.84,158.79 528.68,158.06 533.52,155.13 538.36,152.2 543.2,148.29 548.04,150.61 552.88,154.4 557.72,158.06 562.56,163.31 567.4,169.3 572.24,170.77 577.08,168.57 581.92,163.31 586.76,163.68 591.6,157.33 596.44,153.66 601.28,149.88 606.12,151.34 610.96,154.4 615.8,155.13 620.64,155.13 625.48,154.4 630.32,153.66" stroke="#ff0000" stroke-width="2.3" fill="none" stroke-linejoin="round"/>
<polyline points="519,155.86 523.84,157.33 528.68,156.59 533.52,153.66 538.36,149.88 543.2,146.09 548.04,148.29 552.88,151.34 557.72,155.13 562.56,159.53 567.4,164.9 572.24,166.25 577.08,164.05 581.92,158.79 586.76,159.53 591.6,152.2 596.44,149.88 601.28,146.82 606.12,149.14 610.96,152.2 615.8,152.81 620.64,152.81 625.48,152.81 630.32,151.83" stroke="#ff00ff" stroke-width="2.3" fill="none" stroke-linejoin="round"/>
<polyline points="519,146.09 523.84,149.88 528.68,150.97 533.52,144.62 538.36,137.9 543.2,131.18 548.04,129.35 552.88,131.18 557.72,134.24 562.56,140.96 567.4,147.68 572.24,148.29 577.08,143.89 581.92,137.9 586.76,138.39 591.6,131.92 596.44,128.86 601.28,127.4 606.12,131.18 610.96,134.97 615.8,137.9 620.64,139.37 625.48,140.96 630.32,140.1" stroke="#00ff00" stroke-width="2.3" fill="none" stroke-linejoin="round"/>
</g>
<text x="519.4" y="202.4" text-anchor="middle" font-size="6.6">0</text>
<text x="543.6" y="202.4" text-anchor="middle" font-size="6.6">5</text>
<text x="567.8" y="202.4" text-anchor="middle" font-size="6.6">10</text>
<text x="592" y="202.4" text-anchor="middle" font-size="6.6">15</text>
<text x="616.2" y="202.4" text-anchor="middle" font-size="6.6">20</text>
<text x="640.4" y="202.4" text-anchor="middle" font-size="6.6">25</text>
<text x="517.45" y="183.25" text-anchor="end" font-size="6.6">&#8722;20</text>
<text x="517.45" y="159.25" text-anchor="end" font-size="6.6">0</text>
<text x="517.45" y="134.25" text-anchor="end" font-size="6.6">20</text>
<text x="579.5" y="113.9" text-anchor="middle">IRI VTEC&#8211;GPS VTEC</text>
<text transform="translate(499,156.45) rotate(-90)" text-anchor="middle">deviation</text>
<path d="M48.64 228.4V301.7 M72.78 228.4V301.7 M96.92 228.4V301.7 M121.06 228.4V301.7 M24.5 277.5H145.2 M24.5 252.5H145.2" stroke="#000" stroke-width="0.9" stroke-dasharray="0.9 2.3" fill="none" opacity="0.75"/>
<rect x="24.5" y="228.4" width="120.7" height="73.3" fill="none" stroke="#1a1a1a" stroke-width="1.0"/>
<path d="M24.5 301.7v-1.3M24.5 228.4v1.3M48.64 301.7v-1.3M48.64 228.4v1.3M72.78 301.7v-1.3M72.78 228.4v1.3M96.92 301.7v-1.3M96.92 228.4v1.3M121.06 301.7v-1.3M121.06 228.4v1.3M145.2 301.7v-1.3M145.2 228.4v1.3M24.5 301.7h1.3M145.2 301.7h-1.3M24.5 277.5h1.3M145.2 277.5h-1.3M24.5 252.5h1.3M145.2 252.5h-1.3M24.5 228.4h1.3M145.2 228.4h-1.3" stroke="#000" stroke-width="1" fill="none"/>
<clipPath id="c8"><rect x="22.5" y="227.8" width="124.7" height="76.3"/></clipPath>
<g clip-path="url(#c8)">
<polyline points="24.5,299.79 29.33,300.72 34.16,301.21 38.98,300.72 43.81,296.76 48.64,293.78 53.47,292.37 58.3,290.85 63.12,288.51 67.95,286.31 72.78,285.09 77.61,284.6 82.44,284.84 87.26,285.09 92.09,286.06 96.92,289.48 101.75,294.27 106.58,296.76 111.4,298.77 116.23,299.26 121.06,299.26 125.89,298.77 130.72,299.26 135.54,299.26" stroke="#0000ff" stroke-width="2.1" fill="none" stroke-linejoin="round"/>
<circle cx="24.5" cy="299.79" r="2.35" fill="#0000ff"/>
<circle cx="29.33" cy="300.72" r="2.35" fill="#0000ff"/>
<circle cx="34.16" cy="301.21" r="2.35" fill="#0000ff"/>
<circle cx="38.98" cy="300.72" r="2.35" fill="#0000ff"/>
<circle cx="43.81" cy="296.76" r="2.35" fill="#0000ff"/>
<circle cx="48.64" cy="293.78" r="2.35" fill="#0000ff"/>
<circle cx="53.47" cy="292.37" r="2.35" fill="#0000ff"/>
<circle cx="58.3" cy="290.85" r="2.35" fill="#0000ff"/>
<circle cx="63.12" cy="288.51" r="2.35" fill="#0000ff"/>
<circle cx="67.95" cy="286.31" r="2.35" fill="#0000ff"/>
<circle cx="72.78" cy="285.09" r="2.35" fill="#0000ff"/>
<circle cx="77.61" cy="284.6" r="2.35" fill="#0000ff"/>
<circle cx="82.44" cy="284.84" r="2.35" fill="#0000ff"/>
<circle cx="87.26" cy="285.09" r="2.35" fill="#0000ff"/>
<circle cx="92.09" cy="286.06" r="2.35" fill="#0000ff"/>
<circle cx="96.92" cy="289.48" r="2.35" fill="#0000ff"/>
<circle cx="101.75" cy="294.27" r="2.35" fill="#0000ff"/>
<circle cx="106.58" cy="296.76" r="2.35" fill="#0000ff"/>
<circle cx="111.4" cy="298.77" r="2.35" fill="#0000ff"/>
<circle cx="116.23" cy="299.26" r="2.35" fill="#0000ff"/>
<circle cx="121.06" cy="299.26" r="2.35" fill="#0000ff"/>
<circle cx="125.89" cy="298.77" r="2.35" fill="#0000ff"/>
<circle cx="130.72" cy="299.26" r="2.35" fill="#0000ff"/>
<circle cx="135.54" cy="299.26" r="2.35" fill="#0000ff"/>
<polyline points="24.5,299.26 29.33,300.23 34.16,301.21 38.98,299.79 43.81,295.79 48.64,291.34 53.47,289.34 58.3,288.36 63.12,287.82 67.95,288.36 72.78,289.34 77.61,289.34 82.44,288.36 87.26,288.36 92.09,289.34 96.92,290.36 101.75,292.37 106.58,293.34 111.4,294.27 116.23,294.76 121.06,295.79 125.89,296.76 130.72,297.79 135.54,298.77" stroke="#ff0000" stroke-width="2.1" fill="none" stroke-linejoin="round"/>
<path d="M22.1 299.26h4.8M24.5 296.86v4.8M26.93 300.23h4.8M29.33 297.83v4.8M31.76 301.21h4.8M34.16 298.81v4.8M36.58 299.79h4.8M38.98 297.39v4.8M41.41 295.79h4.8M43.81 293.39v4.8M46.24 291.34h4.8M48.64 288.94v4.8M51.07 289.34h4.8M53.47 286.94v4.8M55.9 288.36h4.8M58.3 285.96v4.8M60.72 287.82h4.8M63.12 285.42v4.8M65.55 288.36h4.8M67.95 285.96v4.8M70.38 289.34h4.8M72.78 286.94v4.8M75.21 289.34h4.8M77.61 286.94v4.8M80.04 288.36h4.8M82.44 285.96v4.8M84.86 288.36h4.8M87.26 285.96v4.8M89.69 289.34h4.8M92.09 286.94v4.8M94.52 290.36h4.8M96.92 287.96v4.8M99.35 292.37h4.8M101.75 289.97v4.8M104.18 293.34h4.8M106.58 290.94v4.8M109 294.27h4.8M111.4 291.87v4.8M113.83 294.76h4.8M116.23 292.36v4.8M118.66 295.79h4.8M121.06 293.39v4.8M123.49 296.76h4.8M125.89 294.36v4.8M128.32 297.79h4.8M130.72 295.39v4.8M133.14 298.77h4.8M135.54 296.37v4.8" stroke="#ff0000" stroke-width="1.6" fill="none"/>
<polyline points="24.5,298.77 29.33,299.79 34.16,300.23 38.98,299.26 43.81,294.76 48.64,290.36 53.47,287.82 58.3,286.45 63.12,285.92 67.95,286.45 72.78,286.94 77.61,286.94 82.44,286.45 87.26,286.45 92.09,286.94 96.92,287.82 101.75,290.36 106.58,291.34 111.4,292.37 116.23,293.34 121.06,294.27 125.89,295.25 130.72,296.28 135.54,297.79" stroke="#ff00ff" stroke-width="2.1" fill="none" stroke-linejoin="round"/>
<path d="M22.1 298.77h4.8M24.5 296.37v4.8M26.93 299.79h4.8M29.33 297.39v4.8M31.76 300.23h4.8M34.16 297.83v4.8M36.58 299.26h4.8M38.98 296.86v4.8M41.41 294.76h4.8M43.81 292.36v4.8M46.24 290.36h4.8M48.64 287.96v4.8M51.07 287.82h4.8M53.47 285.42v4.8M55.9 286.45h4.8M58.3 284.05v4.8M60.72 285.92h4.8M63.12 283.52v4.8M65.55 286.45h4.8M67.95 284.05v4.8M70.38 286.94h4.8M72.78 284.54v4.8M75.21 286.94h4.8M77.61 284.54v4.8M80.04 286.45h4.8M82.44 284.05v4.8M84.86 286.45h4.8M87.26 284.05v4.8M89.69 286.94h4.8M92.09 284.54v4.8M94.52 287.82h4.8M96.92 285.42v4.8M99.35 290.36h4.8M101.75 287.96v4.8M104.18 291.34h4.8M106.58 288.94v4.8M109 292.37h4.8M111.4 289.97v4.8M113.83 293.34h4.8M116.23 290.94v4.8M118.66 294.27h4.8M121.06 291.87v4.8M123.49 295.25h4.8M125.89 292.85v4.8M128.32 296.28h4.8M130.72 293.88v4.8M133.14 297.79h4.8M135.54 295.39v4.8" stroke="#ff00ff" stroke-width="1.6" fill="none"/>
<polyline points="24.5,294.76 29.33,296.28 34.16,296.76 38.98,295.25 43.81,289.87 48.64,283.42 53.47,280 58.3,278.49 63.12,278 67.95,278 72.78,278.49 77.61,278.49 82.44,278 87.26,277.02 92.09,278 96.92,280 101.75,282.45 106.58,283.91 111.4,285.43 116.23,286.89 121.06,288.85 125.89,290.36 130.72,291.83 135.54,293.78" stroke="#00ff00" stroke-width="2.1" fill="none" stroke-linejoin="round"/>
<path d="M22.1 294.76h4.8M24.5 292.36v4.8M26.93 296.28h4.8M29.33 293.88v4.8M31.76 296.76h4.8M34.16 294.36v4.8M36.58 295.25h4.8M38.98 292.85v4.8M41.41 289.87h4.8M43.81 287.47v4.8M46.24 283.42h4.8M48.64 281.02v4.8M51.07 280h4.8M53.47 277.6v4.8M55.9 278.49h4.8M58.3 276.09v4.8M60.72 278h4.8M63.12 275.6v4.8M65.55 278h4.8M67.95 275.6v4.8M70.38 278.49h4.8M72.78 276.09v4.8M75.21 278.49h4.8M77.61 276.09v4.8M80.04 278h4.8M82.44 275.6v4.8M84.86 277.02h4.8M87.26 274.62v4.8M89.69 278h4.8M92.09 275.6v4.8M94.52 280h4.8M96.92 277.6v4.8M99.35 282.45h4.8M101.75 280.05v4.8M104.18 283.91h4.8M106.58 281.51v4.8M109 285.43h4.8M111.4 283.03v4.8M113.83 286.89h4.8M116.23 284.49v4.8M118.66 288.85h4.8M121.06 286.45v4.8M123.49 290.36h4.8M125.89 287.96v4.8M128.32 291.83h4.8M130.72 289.43v4.8M133.14 293.78h4.8M135.54 291.38v4.8" stroke="#00ff00" stroke-width="1.6" fill="none"/>
</g>
<text x="24.9" y="311.1" text-anchor="middle" font-size="6.6">0</text>
<text x="49.04" y="311.1" text-anchor="middle" font-size="6.6">5</text>
<text x="73.18" y="311.1" text-anchor="middle" font-size="6.6">10</text>
<text x="97.32" y="311.1" text-anchor="middle" font-size="6.6">15</text>
<text x="121.46" y="311.1" text-anchor="middle" font-size="6.6">20</text>
<text x="145.6" y="311.1" text-anchor="middle" font-size="6.6">25</text>
<text x="22.05" y="305.25" text-anchor="end" font-size="6.6">0</text>
<text x="22.05" y="280.25" text-anchor="end" font-size="6.6">50</text>
<text x="22.05" y="255.25" text-anchor="end" font-size="6.6">100</text>
<text x="22.05" y="231.55" text-anchor="end" font-size="6.6">150</text>
<text x="84.85" y="222.6" text-anchor="middle">21/11/2010</text>
<text transform="translate(4.9,264.05) rotate(-90)" text-anchor="middle">VTEC (TECU)</text>
<text x="84.85" y="319.3" text-anchor="middle">Time (UT hrs)</text>
<rect x="82.5" y="231.9" width="59.5" height="38.1" fill="#fff" stroke="#000" stroke-width="1"/>
<path d="M85.9 237.4H107.9" stroke="#0000ff" stroke-width="1.9"/>
<circle cx="97.1" cy="237.4" r="2.45" fill="#0000ff"/>
<text x="110.4" y="240" text-anchor="start">GPS</text>
<path d="M85.9 246.4H107.9" stroke="#ff0000" stroke-width="1.9"/>
<path d="M94.5 246.4h5.2M97.1 243.5v5.8" stroke="#ff0000" stroke-width="1.3"/>
<text x="110.4" y="249" text-anchor="start">NeQuick</text>
<path d="M85.9 255.4H107.9" stroke="#ff00ff" stroke-width="1.9"/>
<path d="M94.5 255.4h5.2M97.1 252.5v5.8" stroke="#ff00ff" stroke-width="1.3"/>
<text x="110.4" y="258" text-anchor="start">IRI01</text>
<path d="M85.9 264.4H107.9" stroke="#00ff00" stroke-width="1.9"/>
<path d="M94.5 264.4h5.2M97.1 261.5v5.8" stroke="#00ff00" stroke-width="1.3"/>
<text x="110.4" y="267" text-anchor="start">IRI2001</text>
<path d="M213.18 228.4V301.7 M237.46 228.4V301.7 M261.74 228.4V301.7 M286.02 228.4V301.7 M188.9 289.5H310.3 M188.9 265.5H310.3 M188.9 240.5H310.3" stroke="#000" stroke-width="0.9" stroke-dasharray="0.9 2.3" fill="none" opacity="0.75"/>
<rect x="188.9" y="228.4" width="121.4" height="73.3" fill="none" stroke="#1a1a1a" stroke-width="1.0"/>
<path d="M188.9 301.7v-1.3M188.9 228.4v1.3M213.18 301.7v-1.3M213.18 228.4v1.3M237.46 301.7v-1.3M237.46 228.4v1.3M261.74 301.7v-1.3M261.74 228.4v1.3M286.02 301.7v-1.3M286.02 228.4v1.3M310.3 301.7v-1.3M310.3 228.4v1.3M188.9 289.5h1.3M310.3 289.5h-1.3M188.9 265.5h1.3M310.3 265.5h-1.3M188.9 240.5h1.3M310.3 240.5h-1.3" stroke="#000" stroke-width="1" fill="none"/>
<clipPath id="c9"><rect x="186.9" y="227.8" width="125.4" height="76.3"/></clipPath>
<g clip-path="url(#c9)">
<polyline points="188.9,263.58 193.76,264.32 198.61,262.85 203.47,262.12 208.32,262.12 213.18,259.19 218.04,258.45 222.89,262.12 227.75,267.37 232.6,269.57 237.46,271.77 242.32,272.26 247.17,272.26 252.03,271.77 256.88,268.84 261.74,268.1 266.6,259.92 271.45,253.2 276.31,252.47 281.16,255.4 286.02,257.72 290.88,262.12 295.73,263.58 300.59,264.07" stroke="#ff0000" stroke-width="2.3" fill="none" stroke-linejoin="round"/>
<polyline points="188.9,262.12 193.76,262.12 198.61,261.38 203.47,259.92 208.32,259.19 213.18,256.25 218.04,254.67 222.89,258.45 227.75,262.85 232.6,264.32 237.46,267.37 242.32,267.37 247.17,267.37 252.03,265.91 256.88,263.58 261.74,262.85 266.6,256.25 271.45,251 276.31,251 281.16,253.2 286.02,255.4 290.88,259.92 295.73,261.38 300.59,262.12" stroke="#ff00ff" stroke-width="2.3" fill="none" stroke-linejoin="round"/>
<polyline points="188.9,253.2 193.76,255.4 198.61,256.86 203.47,251.73 208.32,248.07 213.18,239.88 218.04,236.1 222.89,239.15 227.75,243.55 232.6,245.14 237.46,248.07 242.32,248.07 247.17,248.07 252.03,246.6 256.88,243.55 261.74,242.82 266.6,236.95 271.45,233.16 276.31,234.02 281.16,236.95 286.02,240.62 290.88,248.07 295.73,251 300.59,251.73" stroke="#00ff00" stroke-width="2.3" fill="none" stroke-linejoin="round"/>
</g>
<text x="189.3" y="311.1" text-anchor="middle" font-size="6.6">0</text>
<text x="213.58" y="311.1" text-anchor="middle" font-size="6.6">5</text>
<text x="237.86" y="311.1" text-anchor="middle" font-size="6.6">10</text>
<text x="262.14" y="311.1" text-anchor="middle" font-size="6.6">15</text>
<text x="286.42" y="311.1" text-anchor="middle" font-size="6.6">20</text>
<text x="310.7" y="311.1" text-anchor="middle" font-size="6.6">25</text>
<text x="187.35" y="292.25" text-anchor="end" font-size="6.6">&#8722;20</text>
<text x="187.35" y="268.25" text-anchor="end" font-size="6.6">0</text>
<text x="187.35" y="243.25" text-anchor="end" font-size="6.6">20</text>
<text x="249.6" y="222.6" text-anchor="middle">IRI VTEC&#8211;GPS VTEC</text>
<text transform="translate(168.9,265.15) rotate(-90)" text-anchor="middle">deviation</text>
<text x="249.6" y="319.3" text-anchor="middle">Time (UT hrs)</text>
<path d="M378.64 228.4V301.7 M402.78 228.4V301.7 M426.92 228.4V301.7 M451.06 228.4V301.7 M354.5 277.5H475.2 M354.5 252.5H475.2" stroke="#000" stroke-width="0.9" stroke-dasharray="0.9 2.3" fill="none" opacity="0.75"/>
<rect x="354.5" y="228.4" width="120.7" height="73.3" fill="none" stroke="#1a1a1a" stroke-width="1.0"/>
<path d="M354.5 301.7v-1.3M354.5 228.4v1.3M378.64 301.7v-1.3M378.64 228.4v1.3M402.78 301.7v-1.3M402.78 228.4v1.3M426.92 301.7v-1.3M426.92 228.4v1.3M451.06 301.7v-1.3M451.06 228.4v1.3M475.2 301.7v-1.3M475.2 228.4v1.3M354.5 301.7h1.3M475.2 301.7h-1.3M354.5 277.5h1.3M475.2 277.5h-1.3M354.5 252.5h1.3M475.2 252.5h-1.3M354.5 228.4h1.3M475.2 228.4h-1.3" stroke="#000" stroke-width="1" fill="none"/>
<clipPath id="c10"><rect x="352.5" y="227.8" width="124.7" height="76.3"/></clipPath>
<g clip-path="url(#c10)">
<polyline points="354.5,300.23 359.33,301.21 364.16,301.7 368.98,301.21 373.81,299.26 378.64,297.25 383.47,295.79 388.3,294.27 393.12,293.34 397.95,293.88 402.78,291.34 407.61,290.36 412.44,291.34 417.26,290.36 422.09,291.34 426.92,293.78 431.75,296.28 436.58,298.28 441.4,299.26 446.23,300.23 451.06,300.23 455.89,300.72 460.72,300.72 465.54,299.79" stroke="#0000ff" stroke-width="2.1" fill="none" stroke-linejoin="round"/>
<circle cx="354.5" cy="300.23" r="2.35" fill="#0000ff"/>
<circle cx="359.33" cy="301.21" r="2.35" fill="#0000ff"/>
<circle cx="364.16" cy="301.7" r="2.35" fill="#0000ff"/>
<circle cx="368.98" cy="301.21" r="2.35" fill="#0000ff"/>
<circle cx="373.81" cy="299.26" r="2.35" fill="#0000ff"/>
<circle cx="378.64" cy="297.25" r="2.35" fill="#0000ff"/>
<circle cx="383.47" cy="295.79" r="2.35" fill="#0000ff"/>
<circle cx="388.3" cy="294.27" r="2.35" fill="#0000ff"/>
<circle cx="393.12" cy="293.34" r="2.35" fill="#0000ff"/>
<circle cx="397.95" cy="293.88" r="2.35" fill="#0000ff"/>
<circle cx="402.78" cy="291.34" r="2.35" fill="#0000ff"/>
<circle cx="407.61" cy="290.36" r="2.35" fill="#0000ff"/>
<circle cx="412.44" cy="291.34" r="2.35" fill="#0000ff"/>
<circle cx="417.26" cy="290.36" r="2.35" fill="#0000ff"/>
<circle cx="422.09" cy="291.34" r="2.35" fill="#0000ff"/>
<circle cx="426.92" cy="293.78" r="2.35" fill="#0000ff"/>
<circle cx="431.75" cy="296.28" r="2.35" fill="#0000ff"/>
<circle cx="436.58" cy="298.28" r="2.35" fill="#0000ff"/>
<circle cx="441.4" cy="299.26" r="2.35" fill="#0000ff"/>
<circle cx="446.23" cy="300.23" r="2.35" fill="#0000ff"/>
<circle cx="451.06" cy="300.23" r="2.35" fill="#0000ff"/>
<circle cx="455.89" cy="300.72" r="2.35" fill="#0000ff"/>
<circle cx="460.72" cy="300.72" r="2.35" fill="#0000ff"/>
<circle cx="465.54" cy="299.79" r="2.35" fill="#0000ff"/>
<polyline points="354.5,300.72 359.33,301.7 364.16,301.7 368.98,300.23 373.81,296.76 378.64,293.34 383.47,290.85 388.3,290.85 393.12,290.85 397.95,290.36 402.78,290.85 407.61,291.34 412.44,290.85 417.26,291.34 422.09,290.85 426.92,292.37 431.75,293.78 436.58,294.76 441.4,295.79 446.23,296.76 451.06,297.79 455.89,298.77 460.72,299.26 465.54,299.79" stroke="#ff0000" stroke-width="2.1" fill="none" stroke-linejoin="round"/>
<path d="M352.1 300.72h4.8M354.5 298.32v4.8M356.93 301.7h4.8M359.33 299.3v4.8M361.76 301.7h4.8M364.16 299.3v4.8M366.58 300.23h4.8M368.98 297.83v4.8M371.41 296.76h4.8M373.81 294.36v4.8M376.24 293.34h4.8M378.64 290.94v4.8M381.07 290.85h4.8M383.47 288.45v4.8M385.9 290.85h4.8M388.3 288.45v4.8M390.72 290.85h4.8M393.12 288.45v4.8M395.55 290.36h4.8M397.95 287.96v4.8M400.38 290.85h4.8M402.78 288.45v4.8M405.21 291.34h4.8M407.61 288.94v4.8M410.04 290.85h4.8M412.44 288.45v4.8M414.86 291.34h4.8M417.26 288.94v4.8M419.69 290.85h4.8M422.09 288.45v4.8M424.52 292.37h4.8M426.92 289.97v4.8M429.35 293.78h4.8M431.75 291.38v4.8M434.18 294.76h4.8M436.58 292.36v4.8M439 295.79h4.8M441.4 293.39v4.8M443.83 296.76h4.8M446.23 294.36v4.8M448.66 297.79h4.8M451.06 295.39v4.8M453.49 298.77h4.8M455.89 296.37v4.8M458.32 299.26h4.8M460.72 296.86v4.8M463.14 299.79h4.8M465.54 297.39v4.8" stroke="#ff0000" stroke-width="1.6" fill="none"/>
<polyline points="354.5,299.31 359.33,300.23 364.16,300.72 368.98,299.79 373.81,295.79 378.64,291.34 383.47,287.82 388.3,287.82 393.12,287.82 397.95,287.82 402.78,287.33 407.61,287.33 412.44,287.33 417.26,287.33 422.09,287.82 426.92,289.34 431.75,291.34 436.58,292.37 441.4,293.78 446.23,294.76 451.06,295.79 455.89,296.76 460.72,297.79 465.54,298.77" stroke="#ff00ff" stroke-width="2.1" fill="none" stroke-linejoin="round"/>
<path d="M352.1 299.31h4.8M354.5 296.91v4.8M356.93 300.23h4.8M359.33 297.83v4.8M361.76 300.72h4.8M364.16 298.32v4.8M366.58 299.79h4.8M368.98 297.39v4.8M371.41 295.79h4.8M373.81 293.39v4.8M376.24 291.34h4.8M378.64 288.94v4.8M381.07 287.82h4.8M383.47 285.42v4.8M385.9 287.82h4.8M388.3 285.42v4.8M390.72 287.82h4.8M393.12 285.42v4.8M395.55 287.82h4.8M397.95 285.42v4.8M400.38 287.33h4.8M402.78 284.93v4.8M405.21 287.33h4.8M407.61 284.93v4.8M410.04 287.33h4.8M412.44 284.93v4.8M414.86 287.33h4.8M417.26 284.93v4.8M419.69 287.82h4.8M422.09 285.42v4.8M424.52 289.34h4.8M426.92 286.94v4.8M429.35 291.34h4.8M431.75 288.94v4.8M434.18 292.37h4.8M436.58 289.97v4.8M439 293.78h4.8M441.4 291.38v4.8M443.83 294.76h4.8M446.23 292.36v4.8M448.66 295.79h4.8M451.06 293.39v4.8M453.49 296.76h4.8M455.89 294.36v4.8M458.32 297.79h4.8M460.72 295.39v4.8M463.14 298.77h4.8M465.54 296.37v4.8" stroke="#ff00ff" stroke-width="1.6" fill="none"/>
<polyline points="354.5,295.79 359.33,296.76 364.16,297.79 368.98,296.28 373.81,291.34 378.64,283.91 383.47,280 388.3,280 393.12,280 397.95,280 402.78,280 407.61,280 412.44,280 417.26,279.51 422.09,280 426.92,280.93 431.75,282.94 436.58,284.94 441.4,286.45 446.23,287.82 451.06,289.87 455.89,291.83 460.72,293.34 465.54,294.76" stroke="#00ff00" stroke-width="2.1" fill="none" stroke-linejoin="round"/>
<path d="M352.1 295.79h4.8M354.5 293.39v4.8M356.93 296.76h4.8M359.33 294.36v4.8M361.76 297.79h4.8M364.16 295.39v4.8M366.58 296.28h4.8M368.98 293.88v4.8M371.41 291.34h4.8M373.81 288.94v4.8M376.24 283.91h4.8M378.64 281.51v4.8M381.07 280h4.8M383.47 277.6v4.8M385.9 280h4.8M388.3 277.6v4.8M390.72 280h4.8M393.12 277.6v4.8M395.55 280h4.8M397.95 277.6v4.8M400.38 280h4.8M402.78 277.6v4.8M405.21 280h4.8M407.61 277.6v4.8M410.04 280h4.8M412.44 277.6v4.8M414.86 279.51h4.8M417.26 277.11v4.8M419.69 280h4.8M422.09 277.6v4.8M424.52 280.93h4.8M426.92 278.53v4.8M429.35 282.94h4.8M431.75 280.54v4.8M434.18 284.94h4.8M436.58 282.54v4.8M439 286.45h4.8M441.4 284.05v4.8M443.83 287.82h4.8M446.23 285.42v4.8M448.66 289.87h4.8M451.06 287.47v4.8M453.49 291.83h4.8M455.89 289.43v4.8M458.32 293.34h4.8M460.72 290.94v4.8M463.14 294.76h4.8M465.54 292.36v4.8" stroke="#00ff00" stroke-width="1.6" fill="none"/>
</g>
<text x="354.9" y="311.1" text-anchor="middle" font-size="6.6">0</text>
<text x="379.04" y="311.1" text-anchor="middle" font-size="6.6">5</text>
<text x="403.18" y="311.1" text-anchor="middle" font-size="6.6">10</text>
<text x="427.32" y="311.1" text-anchor="middle" font-size="6.6">15</text>
<text x="451.46" y="311.1" text-anchor="middle" font-size="6.6">20</text>
<text x="475.6" y="311.1" text-anchor="middle" font-size="6.6">25</text>
<text x="352.05" y="305.25" text-anchor="end" font-size="6.6">0</text>
<text x="352.05" y="280.25" text-anchor="end" font-size="6.6">50</text>
<text x="352.05" y="255.25" text-anchor="end" font-size="6.6">100</text>
<text x="352.05" y="231.55" text-anchor="end" font-size="6.6">150</text>
<text x="414.85" y="222.6" text-anchor="middle">19/12/2010</text>
<text transform="translate(334.9,264.05) rotate(-90)" text-anchor="middle">VTEC (TECU)</text>
<text x="414.85" y="319.3" text-anchor="middle">Time (UT hrs)</text>
<rect x="412.5" y="231.9" width="59.5" height="38.1" fill="#fff" stroke="#000" stroke-width="1"/>
<path d="M415.9 237.4H437.9" stroke="#0000ff" stroke-width="1.9"/>
<circle cx="427.1" cy="237.4" r="2.45" fill="#0000ff"/>
<text x="440.4" y="240" text-anchor="start">GPS</text>
<path d="M415.9 246.4H437.9" stroke="#ff0000" stroke-width="1.9"/>
<path d="M424.5 246.4h5.2M427.1 243.5v5.8" stroke="#ff0000" stroke-width="1.3"/>
<text x="440.4" y="249" text-anchor="start">NeQuick</text>
<path d="M415.9 255.4H437.9" stroke="#ff00ff" stroke-width="1.9"/>
<path d="M424.5 255.4h5.2M427.1 252.5v5.8" stroke="#ff00ff" stroke-width="1.3"/>
<text x="440.4" y="258" text-anchor="start">IRI01</text>
<path d="M415.9 264.4H437.9" stroke="#00ff00" stroke-width="1.9"/>
<path d="M424.5 264.4h5.2M427.1 261.5v5.8" stroke="#00ff00" stroke-width="1.3"/>
<text x="440.4" y="267" text-anchor="start">IRI2001</text>
<path d="M543.2 228.4V301.7 M567.4 228.4V301.7 M591.6 228.4V301.7 M615.8 228.4V301.7 M519 289.5H640 M519 265.5H640 M519 240.5H640" stroke="#000" stroke-width="0.9" stroke-dasharray="0.9 2.3" fill="none" opacity="0.75"/>
<rect x="519" y="228.4" width="121" height="73.3" fill="none" stroke="#1a1a1a" stroke-width="1.0"/>
<path d="M519 301.7v-1.3M519 228.4v1.3M543.2 301.7v-1.3M543.2 228.4v1.3M567.4 301.7v-1.3M567.4 228.4v1.3M591.6 301.7v-1.3M591.6 228.4v1.3M615.8 301.7v-1.3M615.8 228.4v1.3M640 301.7v-1.3M640 228.4v1.3M519 289.5h1.3M640 289.5h-1.3M519 265.5h1.3M640 265.5h-1.3M519 240.5h1.3M640 240.5h-1.3" stroke="#000" stroke-width="1" fill="none"/>
<clipPath id="c11"><rect x="517" y="227.8" width="125" height="76.3"/></clipPath>
<g clip-path="url(#c11)">
<polyline points="519,265.05 523.84,263.83 528.68,262.85 533.52,260.53 538.36,258.82 543.2,255.4 548.04,252.96 552.88,257.6 557.72,257.6 562.56,265.78 567.4,264.32 572.24,265.78 577.08,265.05 581.92,265.78 586.76,266.27 591.6,265.05 596.44,260.53 601.28,256.86 606.12,254.42 610.96,256.25 615.8,258.45 620.64,259.06 625.48,262.12 630.32,265.05" stroke="#ff0000" stroke-width="2.3" fill="none" stroke-linejoin="round"/>
<polyline points="519,262.12 523.84,261.38 528.68,260.53 533.52,258.45 538.36,255.4 543.2,250.27 548.04,247.21 552.88,251.73 557.72,251 562.56,259.06 567.4,257.6 572.24,258.82 577.08,258.45 581.92,259.06 586.76,259.92 591.6,259.92 596.44,256.25 601.28,253.2 606.12,251 610.96,253.2 615.8,255.4 620.64,256.86 625.48,259.92 630.32,262.12" stroke="#ff00ff" stroke-width="2.3" fill="none" stroke-linejoin="round"/>
<polyline points="519,256.25 523.84,256.86 528.68,257.6 533.52,251.73 538.36,245.14 543.2,235.12 548.04,225.35 552.88,229.38 557.72,230.6 562.56,238.3 567.4,237.68 572.24,239.15 577.08,238.3 581.92,239.15 586.76,239.15 591.6,239.15 596.44,236.1 601.28,234.63 606.12,234.02 610.96,237.68 615.8,242.08 620.64,245.14 625.48,249.53 630.32,253.2" stroke="#00ff00" stroke-width="2.3" fill="none" stroke-linejoin="round"/>
</g>
<text x="519.4" y="311.1" text-anchor="middle" font-size="6.6">0</text>
<text x="543.6" y="311.1" text-anchor="middle" font-size="6.6">5</text>
<text x="567.8" y="311.1" text-anchor="middle" font-size="6.6">10</text>
<text x="592" y="311.1" text-anchor="middle" font-size="6.6">15</text>
<text x="616.2" y="311.1" text-anchor="middle" font-size="6.6">20</text>
<text x="640.4" y="311.1" text-anchor="middle" font-size="6.6">25</text>
<text x="517.45" y="292.25" text-anchor="end" font-size="6.6">&#8722;20</text>
<text x="517.45" y="268.25" text-anchor="end" font-size="6.6">0</text>
<text x="517.45" y="243.25" text-anchor="end" font-size="6.6">20</text>
<text x="579.5" y="222.6" text-anchor="middle">IRI VTEC&#8211;GPS VTEC</text>
<text transform="translate(499,265.15) rotate(-90)" text-anchor="middle">deviation</text>
<text x="579.5" y="319.3" text-anchor="middle">Time (UT hrs)</text>
<rect x="131.4" y="321.6" width="213.3" height="12.2" fill="#fff" stroke="#000" stroke-width="1"/>
<path d="M135.4 327.6H157.1" stroke="#ff0000" stroke-width="1.9"/>
<text x="160" y="330.2" text-anchor="start">NeQuick&#8211;GPS</text>
<path d="M210.7 327.6H233" stroke="#ff00ff" stroke-width="1.9"/>
<text x="235.3" y="330.2" text-anchor="start">IRI01&#8211;GPS</text>
<path d="M275.2 327.6H297" stroke="#00ff00" stroke-width="1.9"/>
<text x="299.7" y="330.2" text-anchor="start">IRI2001&#8211;GPS</text>
<rect x="470.9" y="321.6" width="213.3" height="12.2" fill="#fff" stroke="#000" stroke-width="1"/>
<path d="M474.9 327.6H496.6" stroke="#ff0000" stroke-width="1.9"/>
<text x="499.5" y="330.2" text-anchor="start">NeQuick&#8211;GPS</text>
<path d="M550.2 327.6H572.5" stroke="#ff00ff" stroke-width="1.9"/>
<text x="574.8" y="330.2" text-anchor="start">IRI01&#8211;GPS</text>
<path d="M614.7 327.6H636.5" stroke="#00ff00" stroke-width="1.9"/>
<text x="639.2" y="330.2" text-anchor="start">IRI2001&#8211;GPS</text>
</svg>
</body></html>
